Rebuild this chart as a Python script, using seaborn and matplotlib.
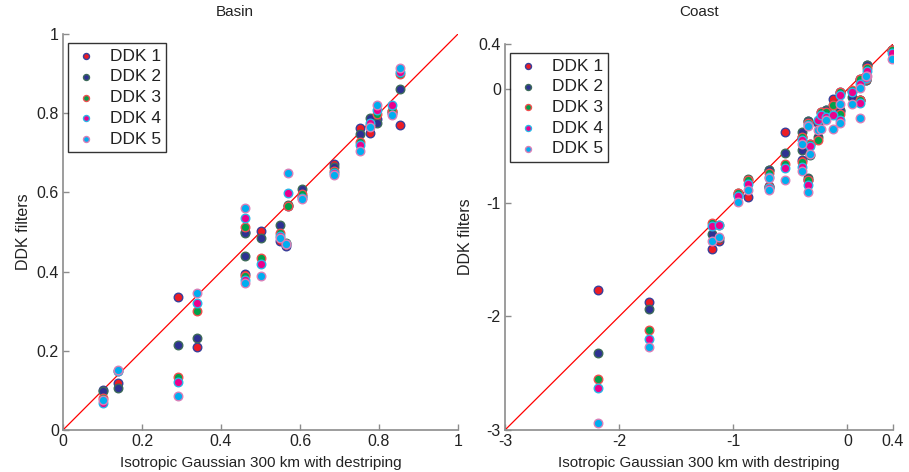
import numpy as np
import pandas as pd
import seaborn as sns
import matplotlib.pyplot as plt

# basin averages: isotropic gaussian (x) vs the five DDK filters (y)
basin_x = [0.10, 0.14, 0.29, 0.34, 0.46, 0.46, 0.50, 0.55, 0.57, 0.565,
           0.605, 0.687, 0.753, 0.778, 0.795, 0.834, 0.853]
basin_ddk1 = [0.100, 0.118, 0.337, 0.210, 0.500, 0.395, 0.503, 0.478, 0.566, 0.465,
              0.590, 0.672, 0.762, 0.750, 0.785, 0.800, 0.770]
basin_ddk2 = [0.098, 0.105, 0.214, 0.232, 0.497, 0.440, 0.484, 0.517, 0.567, 0.471,
              0.608, 0.665, 0.747, 0.787, 0.776, 0.805, 0.860]
basin_ddk3 = [0.080, 0.148, 0.135, 0.300, 0.512, 0.390, 0.435, 0.497, 0.566, 0.470,
              0.595, 0.655, 0.728, 0.770, 0.798, 0.805, 0.900]
basin_ddk4 = [0.068, 0.148, 0.120, 0.321, 0.535, 0.380, 0.418, 0.490, 0.598, 0.470,
              0.585, 0.650, 0.720, 0.775, 0.808, 0.820, 0.905]
basin_ddk5 = [0.075, 0.152, 0.085, 0.347, 0.561, 0.370, 0.389, 0.485, 0.650, 0.470,
              0.583, 0.645, 0.705, 0.765, 0.820, 0.795, 0.913]

coast_x = [-2.183, -1.736, -1.19, -1.123, -0.962, -0.87, -0.685, -0.685, -0.545, -0.40,
           -0.40, -0.347, -0.33, -0.344, -0.256, -0.227, -0.189, -0.13, -0.066, -0.066,
           0.045, 0.109, 0.109, 0.172, 0.16, 0.39]
coast_ddk1 = [-1.768, -1.876, -1.407, -1.337, -0.930, -0.947, -0.706, -0.855, -0.375, -0.420,
              -0.620, -0.281, -0.478, -0.800, -0.300, -0.200, -0.179, -0.082, -0.024, -0.190,
              -0.010, 0.094, -0.090, 0.211, 0.085, 0.350]
coast_ddk2 = [-2.325, -1.935, -1.275, -1.310, -0.912, -0.785, -0.712, -0.859, -0.556, -0.375,
              -0.530, -0.275, -0.580, -0.780, -0.420, -0.258, -0.185, -0.141, -0.030, -0.185,
              -0.068, 0.080, -0.095, 0.211, 0.085, 0.345]
coast_ddk3 = [-2.553, -2.122, -1.173, -1.190, -0.915, -0.800, -0.736, -0.860, -0.654, -0.420,
              -0.640, -0.300, -0.478, -0.800, -0.443, -0.200, -0.200, -0.141, -0.024, -0.220,
              -0.003, 0.094, -0.090, 0.191, 0.090, 0.350]
coast_ddk4 = [-2.627, -2.200, -1.205, -1.196, -0.940, -0.835, -0.771, -0.870, -0.689, -0.448,
              -0.683, -0.310, -0.500, -0.838, -0.273, -0.229, -0.244, -0.229, -0.047, -0.273,
              -0.024, 0.050, -0.120, 0.161, 0.100, 0.320]
coast_ddk5 = [-2.940, -2.266, -1.337, -1.299, -0.988, -0.882, -0.780, -0.888, -0.800, -0.478,
              -0.718, -0.320, -0.566, -0.903, -0.360, -0.346, -0.270, -0.346, -0.126, -0.300,
              -0.126, 0.015, -0.249, 0.114, 0.120, 0.270]

labels = ['DDK 1', 'DDK 2', 'DDK 3', 'DDK 4', 'DDK 5']
faces = ['#ed1c24', '#2e3192', '#00a14b', '#ec008c', '#00aeef']
edges = ['#3a3f9a', '#3d6b5a', '#f04e4e', '#29b6e8', '#d97fb8']

sns.set_style('white')
plt.rcParams['font.family'] = ['Liberation Sans', 'DejaVu Sans']

fig = plt.figure(figsize=(9.09, 4.72), dpi=100)
ax1 = fig.add_axes([63 / 909, 1 - 430 / 472, 395 / 909, 396 / 472])
ax2 = fig.add_axes([505 / 909, 1 - 430 / 472, 388 / 909, 386 / 472])

ink = '#222222'


def panel(ax, xs, series, lims, ticks, ticklabels):
    sns.lineplot(x=lims, y=lims, ax=ax, color='red', linewidth=0.9, zorder=1)
    for lab, ys, fc, ec in zip(labels, series, faces, edges):
        df = pd.DataFrame({'x': xs, 'y': ys})
        sns.scatterplot(data=df, x='x', y='y', ax=ax, color=fc, edgecolor=ec,
                        linewidth=1.0, s=38, label=lab, zorder=3)
    ax.set_xlim(lims)
    ax.set_ylim(lims)
    ax.set_xticks(ticks)
    ax.set_xticklabels(ticklabels)
    ax.set_yticks(ticks)
    ax.set_yticklabels(ticklabels)
    for side in ['top', 'right']:
        ax.spines[side].set_visible(False)
    for side in ['left', 'bottom']:
        ax.spines[side].set_color('#8c8c8c')
        ax.spines[side].set_linewidth(1.2)
    ax.tick_params(direction='in', length=4, width=1, color='#8c8c8c',
                   labelsize=11.5, labelcolor=ink, pad=3,
                   left=True, bottom=True)
    ax.set_xlabel('Isotropic Gaussian 300 km with destriping', fontsize=11,
                  labelpad=5, color=ink)
    ax.set_ylabel('DDK filters', fontsize=11.5, color=ink, labelpad=4)
    leg = ax.legend(loc='upper left', bbox_to_anchor=(0.004, 0.985), frameon=True,
                    fancybox=False, edgecolor='black', fontsize=12.5,
                    handletextpad=0.6, labelspacing=0.32, borderpad=0.3,
                    markerscale=0.7, handlelength=1.5, borderaxespad=0.2)
    leg.get_frame().set_linewidth(1.0)
    for t in leg.get_texts():
        t.set_color(ink)


panel(ax1, basin_x,
      [basin_ddk1, basin_ddk2, basin_ddk3, basin_ddk4, basin_ddk5],
      [0, 1], [0, 0.2, 0.4, 0.6, 0.8, 1], ['0', '0.2', '0.4', '0.6', '0.8', '1'])
panel(ax2, coast_x,
      [coast_ddk1, coast_ddk2, coast_ddk3, coast_ddk4, coast_ddk5],
      [-3, 0.4], [-3, -2, -1, 0, 0.4], ['-3', '-2', '-1', '0', '0.4'])

# panel titles sit at the same height above both axes
fig.text(235 / 909, 1 - 12 / 472, 'Basin', ha='center', va='center', fontsize=11, color=ink)
fig.text(699 / 909, 1 - 12 / 472, 'Coast', ha='center', va='center', fontsize=11, color=ink)

fig.savefig('out.png', dpi=100)
